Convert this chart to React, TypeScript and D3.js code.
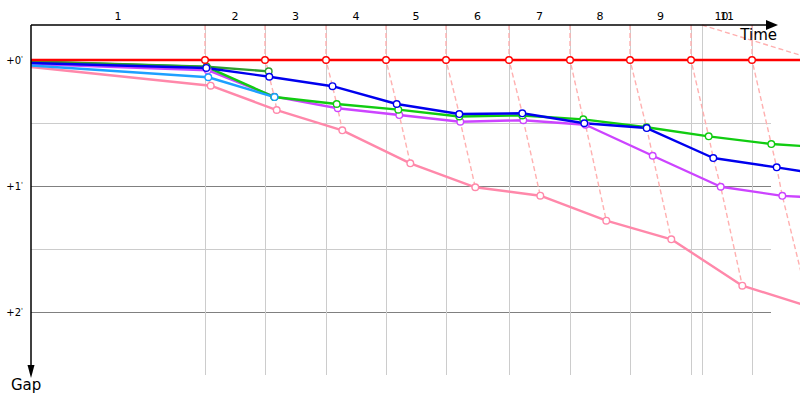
import React, { useRef, useEffect } from "react";
import { select, scaleLinear, line } from "d3";

// lap ends of the leader (s), last one is the odd 11th marker
const lapEnds = [0, 87, 117, 147.5, 177.5, 207.5, 239, 269.5, 299.5, 330, 360.5, 335.5];
const lapLabels = ["1", "2", "3", "4", "5", "6", "7", "8", "9", "10", "11"];
const gapTicks = [0, 1, 2];
const gapHalfTicks = [0.5, 1.5];

// crossing time of each lap line and gap to the leader, per car
const redTimes = [0, 87, 117, 147.5, 177.5, 207.5, 239, 269.5, 299.5, 330, 360.5, 392.5];
const redGaps = [0, 0, 0, 0, 0, 0, 0, 0, 0, 0, 0, 0];
const darkGreenTimes = [0, 87.85, 118.85];
const darkGreenGaps = [0.012, 0.053, 0.09];
const greenTimes = [0, 87.85, 121.65, 152.85, 183.65, 214.15, 245.65, 276.15, 307.75, 338.85, 370.15, 401];
const greenGaps = [0.014, 0.055, 0.294, 0.349, 0.394, 0.448, 0.44, 0.471, 0.534, 0.606, 0.667, 0.698];
const blueTimes = [0, 87.65, 119.15, 150.75, 182.85, 214.15, 245.65, 276.65, 307.85, 341.15, 372.85, 403.5];
const blueGaps = [0.024, 0.063, 0.133, 0.208, 0.349, 0.429, 0.423, 0.502, 0.54, 0.778, 0.852, 0.929];
const purpleTimes = [0, 88.35, 121.65, 153.35, 184.15, 214.65, 246.15, 277.25, 310.85, 344.85, 375.65, 406.5];
const purpleGaps = [0.032, 0.081, 0.291, 0.383, 0.437, 0.49, 0.478, 0.514, 0.76, 1.006, 1.078, 1.103];
const cyanTimes = [0, 88.65, 121.75];
const cyanGaps = [0.044, 0.137, 0.294];
const pinkTimes = [0, 89.85, 122.85, 155.65, 189.65, 222.15, 254.65, 287.65, 320.15, 355.65, 389.25];
const pinkGaps = [0.056, 0.204, 0.397, 0.558, 0.82, 1.01, 1.077, 1.275, 1.423, 1.791, 1.958];

interface Pt {
  t: number;
  gap: number;
  lap: number;
}

const zip = (ts: number[], gs: number[]): Pt[] =>
  ts.map((t, i) => ({ t, gap: gs[i], lap: i }));

// drawing order: first is lowest
const cars = [
  { pts: zip(pinkTimes, pinkGaps), color: "#ff88aa" },
  { pts: zip(purpleTimes, purpleGaps), color: "#cc44ff" },
  { pts: zip(greenTimes, greenGaps), color: "#11cc11" },
  { pts: zip(darkGreenTimes, darkGreenGaps), color: "#2f9f2f" },
  { pts: zip(blueTimes, blueGaps), color: "#0000ee" },
  { pts: zip(cyanTimes, cyanGaps), color: "#1ea0ff" },
  { pts: zip(redTimes, redGaps), color: "#ff0000" },
];

const W = 800;
const H = 400;
const font = "'DejaVu Sans', Verdana, sans-serif";

export default function App() {
  const svgRef = useRef<SVGSVGElement>(null);

  useEffect(() => {
    const svg = select(svgRef.current);
    svg.selectAll("*").remove();

    const x = scaleLinear().domain([0, 370]).range([31, 771]);
    const y = scaleLinear().domain([-0.2778, 2.5]).range([25, 375]);
    const top = y.domain()[0];

    // horizontal grid
    svg
      .append("g")
      .attr("shape-rendering", "crispEdges")
      .selectAll("line")
      .data([...gapTicks, ...gapHalfTicks])
      .join("line")
      .attr("x1", x(0))
      .attr("x2", x(370))
      .attr("y1", (d) => Math.round(y(d)) + 0.5)
      .attr("y2", (d) => Math.round(y(d)) + 0.5)
      .attr("stroke", (d) => (Number.isInteger(d) ? "#808080" : "#cccccc"))
      .attr("stroke-width", 1);

    // lap verticals
    svg
      .append("g")
      .attr("shape-rendering", "crispEdges")
      .selectAll("line")
      .data(lapEnds.slice(1))
      .join("line")
      .attr("x1", (d) => Math.round(x(d)) + 0.5)
      .attr("x2", (d) => Math.round(x(d)) + 0.5)
      .attr("y1", y(top))
      .attr("y2", y(2.5))
      .attr("stroke", "#cccccc")
      .attr("stroke-width", 1);

    // dashed lap lines across cars
    const lapLine = line<{ t: number; gap: number }>()
      .x((d) => x(d.t))
      .y((d) => y(d.gap));
    const lapPaths = lapEnds.slice(1).map((b, i) => {
      const lap = i + 1;
      const pts = cars
        .map((c) => c.pts.find((p) => p.lap === lap))
        .filter((p): p is Pt => !!p)
        .sort((a, b2) => a.gap - b2.gap);
      return [{ t: b, gap: top }, ...pts];
    });
    svg
      .append("g")
      .selectAll("path")
      .data(lapPaths)
      .join("path")
      .attr("d", (d) => lapLine(d))
      .attr("fill", "none")
      .attr("stroke", "#ffb0b0")
      .attr("stroke-width", 1.4)
      .attr("stroke-dasharray", "5,3");

    // car lines
    const carLine = line<Pt>()
      .x((d) => x(d.t))
      .y((d) => y(d.gap));
    svg
      .append("g")
      .selectAll("path")
      .data(cars)
      .join("path")
      .attr("d", (d) => carLine(d.pts))
      .attr("fill", "none")
      .attr("stroke", (d) => d.color)
      .attr("stroke-width", 2.4)
      .attr("stroke-linejoin", "round");

    // markers
    cars.forEach((c) => {
      svg
        .append("g")
        .selectAll("circle")
        .data(c.pts.slice(1))
        .join("circle")
        .attr("cx", (d) => x(d.t))
        .attr("cy", (d) => y(d.gap))
        .attr("r", 3.3)
        .attr("fill", "white")
        .attr("stroke", c.color)
        .attr("stroke-width", 1.4);
    });

    // axes
    const ax = svg.append("g");
    ax.append("line")
      .attr("x1", x(0))
      .attr("x2", 768)
      .attr("y1", y(top))
      .attr("y2", y(top))
      .attr("stroke", "black")
      .attr("stroke-width", 1.5);
    ax.append("path")
      .attr("d", `M766,${y(top) - 5}L778,${y(top)}L766,${y(top) + 5}Z`)
      .attr("fill", "black");
    ax.append("line")
      .attr("x1", x(0))
      .attr("x2", x(0))
      .attr("y1", y(top))
      .attr("y2", 368)
      .attr("stroke", "black")
      .attr("stroke-width", 1.5);
    ax.append("path")
      .attr("d", `M${x(0) - 3.5},365L${x(0)},378L${x(0) + 3.5},365Z`)
      .attr("fill", "black");

    // lap labels
    ax.selectAll("text.lap")
      .data(lapLabels)
      .join("text")
      .attr("class", "lap")
      .attr("x", (_, i) => x((lapEnds[i] + lapEnds[i + 1]) / 2))
      .attr("y", 20)
      .attr("text-anchor", "middle")
      .attr("font-family", font)
      .attr("font-size", 11)
      .text((d) => d);

    // gap labels
    const gl = ax
      .selectAll("text.gap")
      .data(gapTicks)
      .join("text")
      .attr("class", "gap")
      .attr("x", x(0) - 8)
      .attr("y", (d) => y(d) + 3.5)
      .attr("text-anchor", "end")
      .attr("font-family", font)
      .attr("font-size", 10);
    gl.append("tspan").text((d) => `+${d}`);
    gl.append("tspan").attr("font-size", 7).attr("dy", -3).text("'");

    ax.append("text")
      .attr("x", 777)
      .attr("y", 40)
      .attr("text-anchor", "end")
      .attr("font-family", font)
      .attr("font-size", 15)
      .text("Time");
    ax.append("text")
      .attr("x", 11)
      .attr("y", 390)
      .attr("font-family", font)
      .attr("font-size", 15)
      .text("Gap");
  }, []);

  return (
    <svg
      ref={svgRef}
      width={W}
      height={H}
      style={{ position: "fixed", left: 0, top: 0, background: "white" }}
    />
  );
}
